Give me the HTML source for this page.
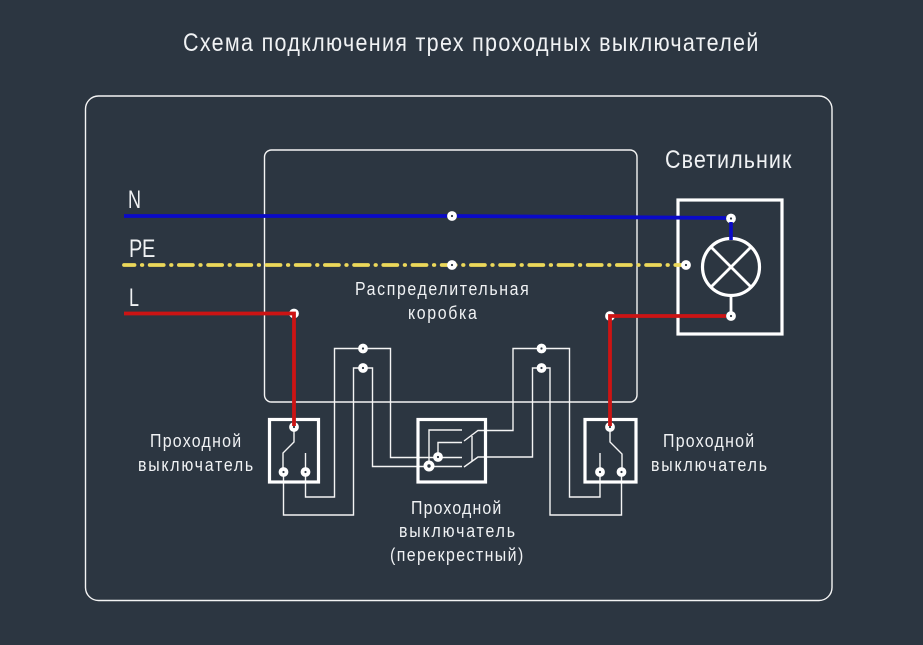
<!DOCTYPE html>
<html><head><meta charset="utf-8"><style>
html,body{margin:0;padding:0;background:#2c3641}
svg{display:block}
text{font-family:"Liberation Sans","DejaVu Sans",sans-serif;fill:#f0f2f4}
</style></head><body>
<svg width="923" height="645" viewBox="0 0 923 645" xmlns="http://www.w3.org/2000/svg">
<rect width="923" height="645" fill="#2c3641"/>
<g fill="none" stroke="#f4f4f4" stroke-width="1.4">
<rect x="85.5" y="96" width="746.5" height="504.5" rx="13"/>
<rect x="264.5" y="150" width="372.5" height="252" rx="7"/>
<path d="M305.5 472V497H334.5V348.5H390.5V457.5H462"/>
<path d="M283.5 472V515H353.5V368H372.5V466.5H462"/>
<path d="M429 466V430H462"/>
<path d="M438 457V442.5H462"/>
<path d="M464 441L478 430.5H513V348.5H569.5V497H600V472"/>
<path d="M464 467L478 457H532.5V368H550V515H621.5V472"/>
<path d="M472 436V461"/>
<path d="M294 427V442L283 453V472M305.5 453V472"/>
<path d="M610 427V442L622 454V472M600 453V472"/>
</g>
<g fill="none" stroke="#ffffff" stroke-width="3.2">
<rect x="269.5" y="419.5" width="49" height="62.5"/>
<rect x="418" y="419.5" width="67.5" height="62.5"/>
<rect x="585" y="419.5" width="51" height="62.5"/>
<rect x="678" y="200" width="104" height="134"/>
<circle cx="731" cy="267" r="28.5"/>
<path d="M711 247L751 287M751 247L711 287M731 296V316" stroke-width="2.8"/>
</g>
<path d="M124 265H686" fill="none" stroke="#ecd85a" stroke-width="3.8" stroke-linecap="round" stroke-dasharray="14 7.35 0.5 7.35" stroke-dashoffset="3.5"/>
<g fill="#2c3641" stroke="#ffffff" stroke-width="3.8">
<circle cx="452" cy="216" r="3"/><circle cx="452" cy="265" r="3"/>
<circle cx="731" cy="218.5" r="3"/><circle cx="731" cy="316" r="3"/>
<circle cx="686" cy="265" r="3"/>
<circle cx="294" cy="313.5" r="3"/><circle cx="610" cy="316" r="3"/>
<circle cx="294" cy="427" r="3"/><circle cx="610" cy="427" r="3"/>
<circle cx="283.5" cy="472" r="3"/><circle cx="305.5" cy="472" r="3"/>
<circle cx="600" cy="472" r="3"/><circle cx="621.5" cy="472" r="3"/>
<circle cx="363" cy="348.5" r="3"/><circle cx="363" cy="368" r="3"/>
<circle cx="541.5" cy="348.5" r="3"/><circle cx="541.5" cy="368" r="3"/>
<circle cx="438" cy="457" r="3"/><circle cx="429" cy="466" r="3.6"/>
</g>
<path d="M124 216L447 216M457 216L726 218" fill="none" stroke="#0a0ac8" stroke-width="3.8"/>
<path d="M731 222V240" fill="none" stroke="#0a0ac8" stroke-width="3.6"/>
<path d="M124 313.5H294V426" fill="none" stroke="#cc1414" stroke-width="3.8"/>
<path d="M726 316H610V426" fill="none" stroke="#cc1414" stroke-width="3.8"/>
<g>
<text transform="translate(183 51) scale(.86 1)" font-size="25" textLength="669" lengthAdjust="spacing">Схема подключения трех проходных выключателей</text>
<text transform="translate(665 168) scale(.86 1)" font-size="25" textLength="147" lengthAdjust="spacing">Светильник</text>
<text transform="translate(128 208) scale(.72 1)" font-size="25">N</text>
<text transform="translate(129 257) scale(.8 1)" font-size="25" textLength="33" lengthAdjust="spacing">PE</text>
<text transform="translate(129 306) scale(.72 1)" font-size="25">L</text>
<text transform="translate(355 295) scale(.86 1)" font-size="18.5" textLength="202" lengthAdjust="spacing">Распределительная</text>
<text transform="translate(408 319) scale(.86 1)" font-size="18.5" textLength="80" lengthAdjust="spacing">коробка</text>
<text transform="translate(150 447) scale(.86 1)" font-size="18.5" textLength="106" lengthAdjust="spacing">Проходной</text>
<text transform="translate(138 471) scale(.86 1)" font-size="18.5" textLength="134" lengthAdjust="spacing">выключатель</text>
<text transform="translate(663 447) scale(.86 1)" font-size="18.5" textLength="106" lengthAdjust="spacing">Проходной</text>
<text transform="translate(651 471) scale(.86 1)" font-size="18.5" textLength="135" lengthAdjust="spacing">выключатель</text>
<text transform="translate(411 514) scale(.86 1)" font-size="18.5" textLength="105" lengthAdjust="spacing">Проходной</text>
<text transform="translate(399 537) scale(.86 1)" font-size="18.5" textLength="135" lengthAdjust="spacing">выключатель</text>
<text transform="translate(390 561) scale(.86 1)" font-size="18.5" textLength="155" lengthAdjust="spacing">(перекрестный)</text>
</g>
</svg>
</body></html>
